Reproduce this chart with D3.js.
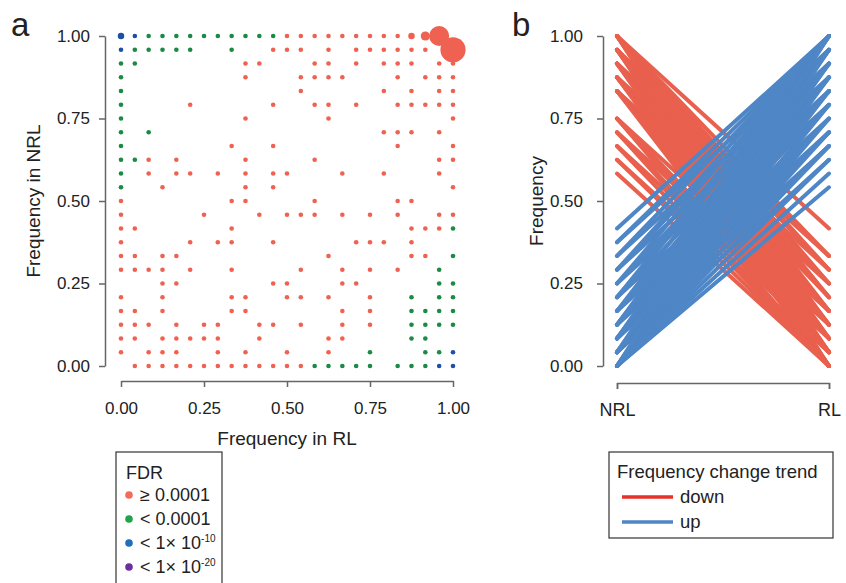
<!DOCTYPE html>
<html>
<head>
<meta charset="utf-8">
<script src="https://cdn.jsdelivr.net/npm/d3@7"></script>
<style>
  body { margin: 0; background: #fff; }
  svg text { font-family: "Liberation Sans", Arial, sans-serif; fill: #222; }
  .axis path, .axis line { stroke: #666; stroke-width: 1.5; }
  .axis text { font-size: 17px; fill: #222; }
</style>
</head>
<body>
<div id="chart"></div>
<script>
// allele counts out of 24 sampled chromosomes, [RL, NRL]
var nChrom = 24;

var redPoints = [
  [12,24],[13,24],[14,24],[15,24],[16,24],[17,24],[18,24],[19,24],[20,24],[21,24],[22,24],[23,24],
  [11,23],[12,23],[13,23],[15,23],[17,23],[18,23],[19,23],[20,23],[21,23],[22,23],[24,23],
  [9,22],[10,22],[14,22],[15,22],[17,22],[19,22],[20,22],[21,22],[23,22],[24,22],
  [9,21],[13,21],[14,21],[15,21],[16,21],[20,21],[22,21],[23,21],[24,21],
  [13,20],[19,20],[21,20],[23,20],[24,20],
  [5,19],[11,19],[14,19],[15,19],[17,19],[20,19],[21,19],[22,19],[23,19],[24,19],
  [9,18],[15,18],[24,18],
  [19,17],[20,17],[21,17],[23,17],
  [8,16],[11,16],[20,16],[24,16],
  [2,15],[4,15],[9,15],[14,15],[23,15],[24,15],
  [2,14],[4,14],[5,14],[7,14],[9,14],[11,14],[12,14],[16,14],[19,14],[23,14],
  [3,13],[9,13],[11,13],[24,13],
  [0,12],[8,12],[9,12],[14,12],[20,12],[21,12],
  [0,11],[6,11],[10,11],[12,11],[13,11],[14,11],[16,11],[18,11],[20,11],[23,11],[24,11],
  [0,10],[1,10],[8,10],[21,10],[22,10],[23,10],
  [0,9],[5,9],[7,9],[8,9],[11,9],[17,9],[18,9],[19,9],[21,9],
  [0,8],[1,8],[3,8],[4,8],[15,8],[21,8],[22,8],
  [0,7],[1,7],[2,7],[3,7],[5,7],[8,7],[13,7],[16,7],[18,7],[20,7],
  [3,6],[4,6],[11,6],[12,6],[16,6],[17,6],
  [0,5],[3,5],[8,5],[9,5],[12,5],[13,5],[15,5],[18,5],
  [0,4],[1,4],[3,4],[8,4],[9,4],[16,4],[18,4],
  [0,3],[1,3],[2,3],[4,3],[6,3],[7,3],[10,3],[11,3],[13,3],[16,3],[18,3],
  [0,2],[1,2],[3,2],[4,2],[5,2],[6,2],[7,2],[10,2],[15,2],[16,2],
  [0,1],[2,1],[3,1],[4,1],[7,1],[9,1],[12,1],[15,1],
  [1,0],[2,0],[3,0],[4,0],[5,0],[6,0],[7,0],[8,0],[9,0],[10,0],[11,0],[12,0],[13,0]
];

var greenPoints = [
  [2,24],[3,24],[4,24],[5,24],[6,24],[7,24],[8,24],[9,24],[10,24],[11,24],
  [1,23],[2,23],[3,23],[4,23],[5,23],[8,23],
  [0,22],[1,22],[0,21],[0,20],[0,19],[0,18],[0,17],[2,17],[0,16],[0,15],[1,15],[0,14],[0,13],
  [24,10],[24,8],[23,7],[23,6],[24,6],[21,5],[23,5],[24,5],
  [21,4],[22,4],[23,4],[24,4],[21,3],[22,3],[23,3],[24,3],[21,2],[22,2],
  [18,1],[22,1],[23,1],
  [14,0],[15,0],[16,0],[17,0],[18,0],[20,0],[21,0],[22,0]
];

var bluePoints = [[0,24],[1,24],[0,23],[24,1],[23,0],[24,0]];

// sites sharing the same frequencies (default 1)
var siteCounts = [
  {rl:21, nrl:24, n:2},
  {rl:22, nrl:24, n:4},
  {rl:23, nrl:24, n:19},
  {rl:24, nrl:23, n:30},
  {rl:0,  nrl:24, n:2}
];

// panel b: [NRL count, RL count]
var downPairs = [
  [24,10],[24,8],[24,7],[24,6],[24,5],[24,4],[24,3],[24,2],[24,1],[24,0],
  [23,8],[23,7],[23,6],[23,5],[23,4],[23,3],[23,2],[23,1],[23,0],
  [22,8],[22,6],[22,5],[22,4],[22,3],[22,2],[22,1],[22,0],
  [21,7],[21,5],[21,4],[21,3],[21,2],[21,1],[21,0],
  [20,6],[20,4],[20,3],[20,2],[20,1],[20,0],
  [18,4],[18,2],[18,1],[18,0],
  [17,3],[17,1],[17,0],
  [16,2],[16,0],
  [15,1],[15,0],
  [14,0]
];
var upPairs = [
  [10,24],[9,23],[9,24],[8,22],[8,24],[7,21],[7,23],[7,24],
  [6,20],[6,22],[6,24],[5,19],[5,21],[5,23],[5,24],
  [4,18],[4,20],[4,22],[4,24],
  [3,17],[3,19],[3,21],[3,22],[3,23],[3,24],
  [2,16],[2,17],[2,18],[2,20],[2,21],[2,22],[2,23],[2,24],
  [1,15],[1,16],[1,17],[1,18],[1,19],[1,20],[1,21],[1,22],[1,23],[1,24],
  [0,13],[0,14],[0,15],[0,16],[0,17],[0,18],[0,19],[0,20],[0,21],[0,22],[0,23],[0,24]
];

var freqTicks = [0, 0.25, 0.5, 0.75, 1];
var groupNames = ['NRL', 'RL'];

var fdrLegend = [
  {label: '\u2265 0.0001', sup: null,  color: '#f26b5b'},
  {label: '< 0.0001',      sup: null,  color: '#22a24a'},
  {label: '< 1\u00d7 10',  sup: '-10', color: '#1f6fba'},
  {label: '< 1\u00d7 10',  sup: '-20', color: '#6b2fa0'}
];
var trendLegend = [
  {label: 'down', color: '#e6332a'},
  {label: 'up',   color: '#4f86c6'}
];

var colRed = '#ef6150', colGreen = '#1a8a45', colBlue = '#1d4fa8';
var lineRed = '#e9604e', lineBlue = '#4f86c6';

var width = 846, height = 583;
var svg = d3.select('#chart').append('svg')
  .attr('width', width)
  .attr('height', height);

var fmt = d3.format('.2f');

// ---------- panel a ----------
var x = d3.scaleLinear().domain([0, 1]).range([121, 453]);
var y = d3.scaleLinear().domain([0, 1]).range([366, 36]);
var r = d3.scaleSqrt().domain([0, 1]).range([0, 2.3]);

function countOf(rl, nrl) {
  var hit = siteCounts.filter(function(s) { return s.rl === rl && s.nrl === nrl; });
  return hit.length ? hit[0].n : 1;
}

svg.append('g')
  .attr('class', 'axis')
  .attr('transform', 'translate(105,0)')
  .call(d3.axisLeft(y).tickValues(freqTicks).tickFormat(fmt).tickSizeInner(6).tickSizeOuter(0).tickPadding(9));

svg.append('g')
  .attr('class', 'axis')
  .attr('transform', 'translate(0,381)')
  .call(d3.axisBottom(x).tickValues(freqTicks).tickFormat(fmt).tickSizeInner(6).tickSizeOuter(0).tickPadding(15));

var groups = [
  {pts: redPoints, color: colRed},
  {pts: greenPoints, color: colGreen},
  {pts: bluePoints, color: colBlue}
];
groups.forEach(function(g) {
  svg.append('g').selectAll('circle')
    .data(g.pts)
    .enter()
    .append('circle')
    .attr('cx', function(d) { return x(d[0] / nChrom); })
    .attr('cy', function(d) { return y(d[1] / nChrom); })
    .attr('r', function(d) { return r(countOf(d[0], d[1])); })
    .attr('fill', g.color);
});

svg.append('text').attr('x', 11).attr('y', 36)
  .style('font-size', '33px').text('a');

svg.append('text')
  .attr('transform', 'translate(40,201) rotate(-90)')
  .attr('text-anchor', 'middle')
  .style('font-size', '19px')
  .text('Frequency in NRL');

svg.append('text')
  .attr('x', 287).attr('y', 445)
  .attr('text-anchor', 'middle')
  .style('font-size', '19px')
  .text('Frequency in RL');

// FDR legend
var lgA = svg.append('g');
lgA.append('rect')
  .attr('x', 116).attr('y', 452).attr('width', 106).attr('height', 150)
  .attr('fill', 'none').attr('stroke', '#333').attr('stroke-width', 1.2);
lgA.append('text').attr('x', 126).attr('y', 479)
  .style('font-size', '18px').text('FDR');
var items = lgA.selectAll('g.item')
  .data(fdrLegend)
  .enter()
  .append('g')
  .attr('class', 'item')
  .attr('transform', function(d, i) { return 'translate(0,' + (495 + i * 24) + ')'; });
items.append('circle').attr('cx', 129).attr('cy', 0).attr('r', 3.8)
  .attr('fill', function(d) { return d.color; });
items.append('text').attr('x', 140).attr('y', 6)
  .style('font-size', '18px')
  .each(function(d) {
    var t = d3.select(this);
    t.append('tspan').text(d.label);
    if (d.sup) {
      t.append('tspan').attr('dy', -7).style('font-size', '10px').text(d.sup);
    }
  });

// ---------- panel b ----------
var xb = d3.scalePoint().domain(groupNames).range([617, 829]);

svg.append('g')
  .attr('class', 'axis')
  .attr('transform', 'translate(603,0)')
  .call(d3.axisLeft(y).tickValues(freqTicks).tickFormat(fmt).tickSizeInner(6).tickSizeOuter(0).tickPadding(14));

var xAxisB = svg.append('g')
  .attr('class', 'axis')
  .attr('transform', 'translate(0,383)')
  .call(d3.axisBottom(xb).tickSizeInner(6).tickSizeOuter(6).tickPadding(14));
xAxisB.selectAll('text').style('font-size', '18px');

var line = d3.line()
  .x(function(d) { return xb(d.g); })
  .y(function(d) { return y(d.v / nChrom); });

function toPath(p) { return [{g: 'NRL', v: p[0]}, {g: 'RL', v: p[1]}]; }

var gl = svg.append('g')
  .attr('fill', 'none')
  .attr('stroke-width', 4)
  .attr('stroke-linecap', 'round');
gl.selectAll('path.down')
  .data(downPairs.map(toPath))
  .enter()
  .append('path')
  .attr('class', 'down')
  .attr('d', line)
  .attr('stroke', lineRed);
gl.selectAll('path.up')
  .data(upPairs.map(toPath))
  .enter()
  .append('path')
  .attr('class', 'up')
  .attr('d', line)
  .attr('stroke', lineBlue);

svg.append('text').attr('x', 512).attr('y', 36)
  .style('font-size', '33px').text('b');

svg.append('text')
  .attr('transform', 'translate(543,201) rotate(-90)')
  .attr('text-anchor', 'middle')
  .style('font-size', '19px')
  .text('Frequency');

// trend legend
var lgB = svg.append('g');
lgB.append('rect')
  .attr('x', 609).attr('y', 452).attr('width', 224).attr('height', 86)
  .attr('fill', 'none').attr('stroke', '#333').attr('stroke-width', 1.2);
lgB.append('text').attr('x', 617).attr('y', 478)
  .style('font-size', '18.5px').text('Frequency change trend');
var tItems = lgB.selectAll('g.titem')
  .data(trendLegend)
  .enter()
  .append('g')
  .attr('class', 'titem')
  .attr('transform', function(d, i) { return 'translate(0,' + (497 + i * 25) + ')'; });
tItems.append('line')
  .attr('x1', 622).attr('x2', 673)
  .attr('stroke', function(d) { return d.color; })
  .attr('stroke-width', 3.5);
tItems.append('text').attr('x', 680).attr('y', 6)
  .style('font-size', '18.5px')
  .text(function(d) { return d.label; });
</script>
</body>
</html>
